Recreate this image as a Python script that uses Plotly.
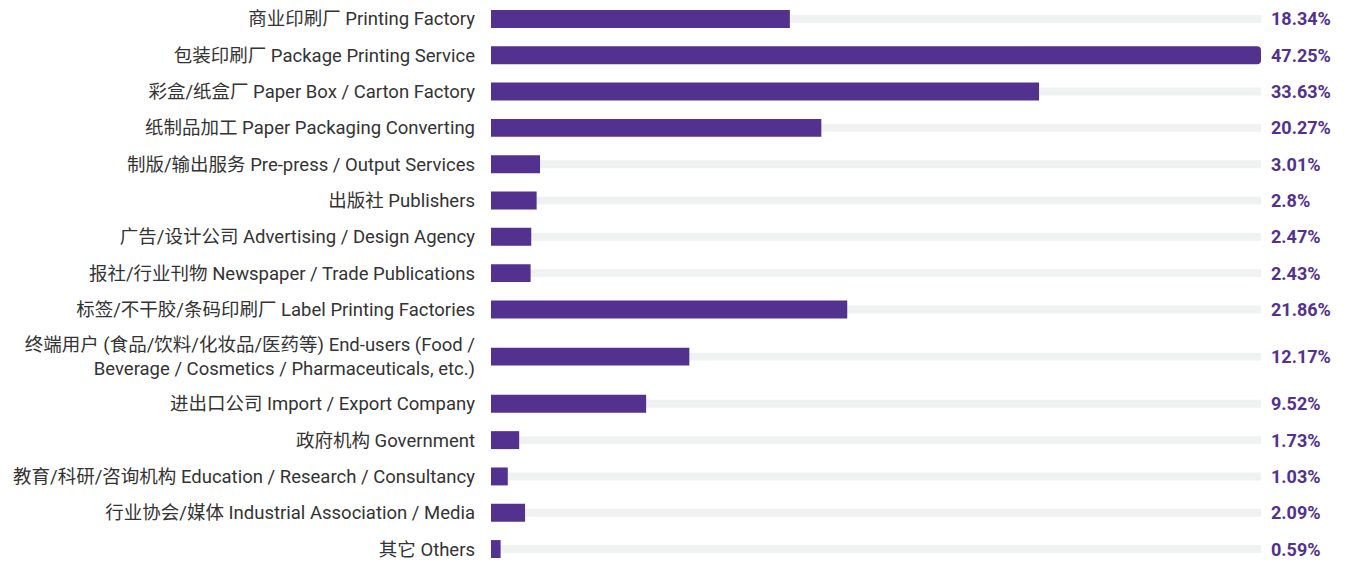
import plotly.graph_objects as go

categories = [
    "商业印刷厂 Printing Factory",
    "包装印刷厂 Package Printing Service",
    "彩盒/纸盒厂 Paper Box / Carton Factory",
    "纸制品加工 Paper Packaging Converting",
    "制版/输出服务 Pre-press / Output Services",
    "出版社 Publishers",
    "广告/设计公司 Advertising / Design Agency",
    "报社/行业刊物 Newspaper / Trade Publications",
    "标签/不干胶/条码印刷厂 Label Printing Factories",
    "终端用户 (食品/饮料/化妆品/医药等) End-users (Food /<br>Beverage / Cosmetics / Pharmaceuticals, etc.)",
    "进出口公司 Import / Export Company",
    "政府机构 Government",
    "教育/科研/咨询机构 Education / Research / Consultancy",
    "行业协会/媒体 Industrial Association / Media",
    "其它 Others",
]
values = [18.34, 47.25, 33.63, 20.27, 3.01, 2.8, 2.47, 2.43, 21.86, 12.17, 9.52, 1.73, 1.03, 2.09, 0.59]
value_labels = ["18.34%", "47.25%", "33.63%", "20.27%", "3.01%", "2.8%", "2.47%", "2.43%",
                "21.86%", "12.17%", "9.52%", "1.73%", "1.03%", "2.09%", "0.59%"]

PURPLE = "#52318f"
TRACK = "#f0f1f1"
FONT = "Roboto, 'Noto Sans CJK SC', sans-serif"

# row positions: multi-line labels get taller rows
heights = [1 + 0.6 * (c.count("<br>")) for c in categories]
ypos = []
acc = 0.0
for h in heights:
    ypos.append(acc + h / 2)
    acc += h

vmax = max(values)
# page body has an 8px margin, so the figure is drawn 8px in from the top-left
W, H = 1344, 554
left, right = 483, 91
first_c, last_c = 9, 541
px_per_unit = (last_c - first_c) / (ypos[-1] - ypos[0])
y_top = ypos[0] - first_c / px_per_unit
y_bot = ypos[-1] + (H - last_c) / px_per_unit

fig = go.Figure()
fig.add_trace(go.Bar(
    y=ypos, x=[vmax] * len(values), orientation="h",
    width=8 / px_per_unit, marker=dict(color=TRACK, line=dict(width=0)),
    hoverinfo="skip", showlegend=False,
))
fig.add_trace(go.Bar(
    y=ypos, x=values, orientation="h",
    width=18 / px_per_unit, marker=dict(color=PURPLE, line=dict(width=0), cornerradius=4),
    showlegend=False,
))
for y, lab in zip(ypos, value_labels):
    fig.add_annotation(x=vmax, y=y, xref="x", yref="y", text=lab, showarrow=False,
                       xanchor="left", xshift=8, yshift=0,
                       font=dict(family=FONT, size=18, color=PURPLE, weight="bold"))

fig.update_layout(
    width=W, height=H, barmode="overlay",
    margin=dict(l=left, r=right, t=0, b=0, pad=0),
    paper_bgcolor="white", plot_bgcolor="white",
    font=dict(family=FONT, size=18.5, color="#333333"),
    xaxis=dict(range=[0, vmax], visible=False, fixedrange=True),
    yaxis=dict(range=[y_bot, y_top], tickvals=ypos, ticktext=categories,
               showgrid=False, zeroline=False, showline=False, ticks="",
               ticklabeloverflow="allow",
               ticklabelstandoff=15, tickfont=dict(family=FONT, size=18.5, color="#333333")),
)
fig.write_html("out.html")
